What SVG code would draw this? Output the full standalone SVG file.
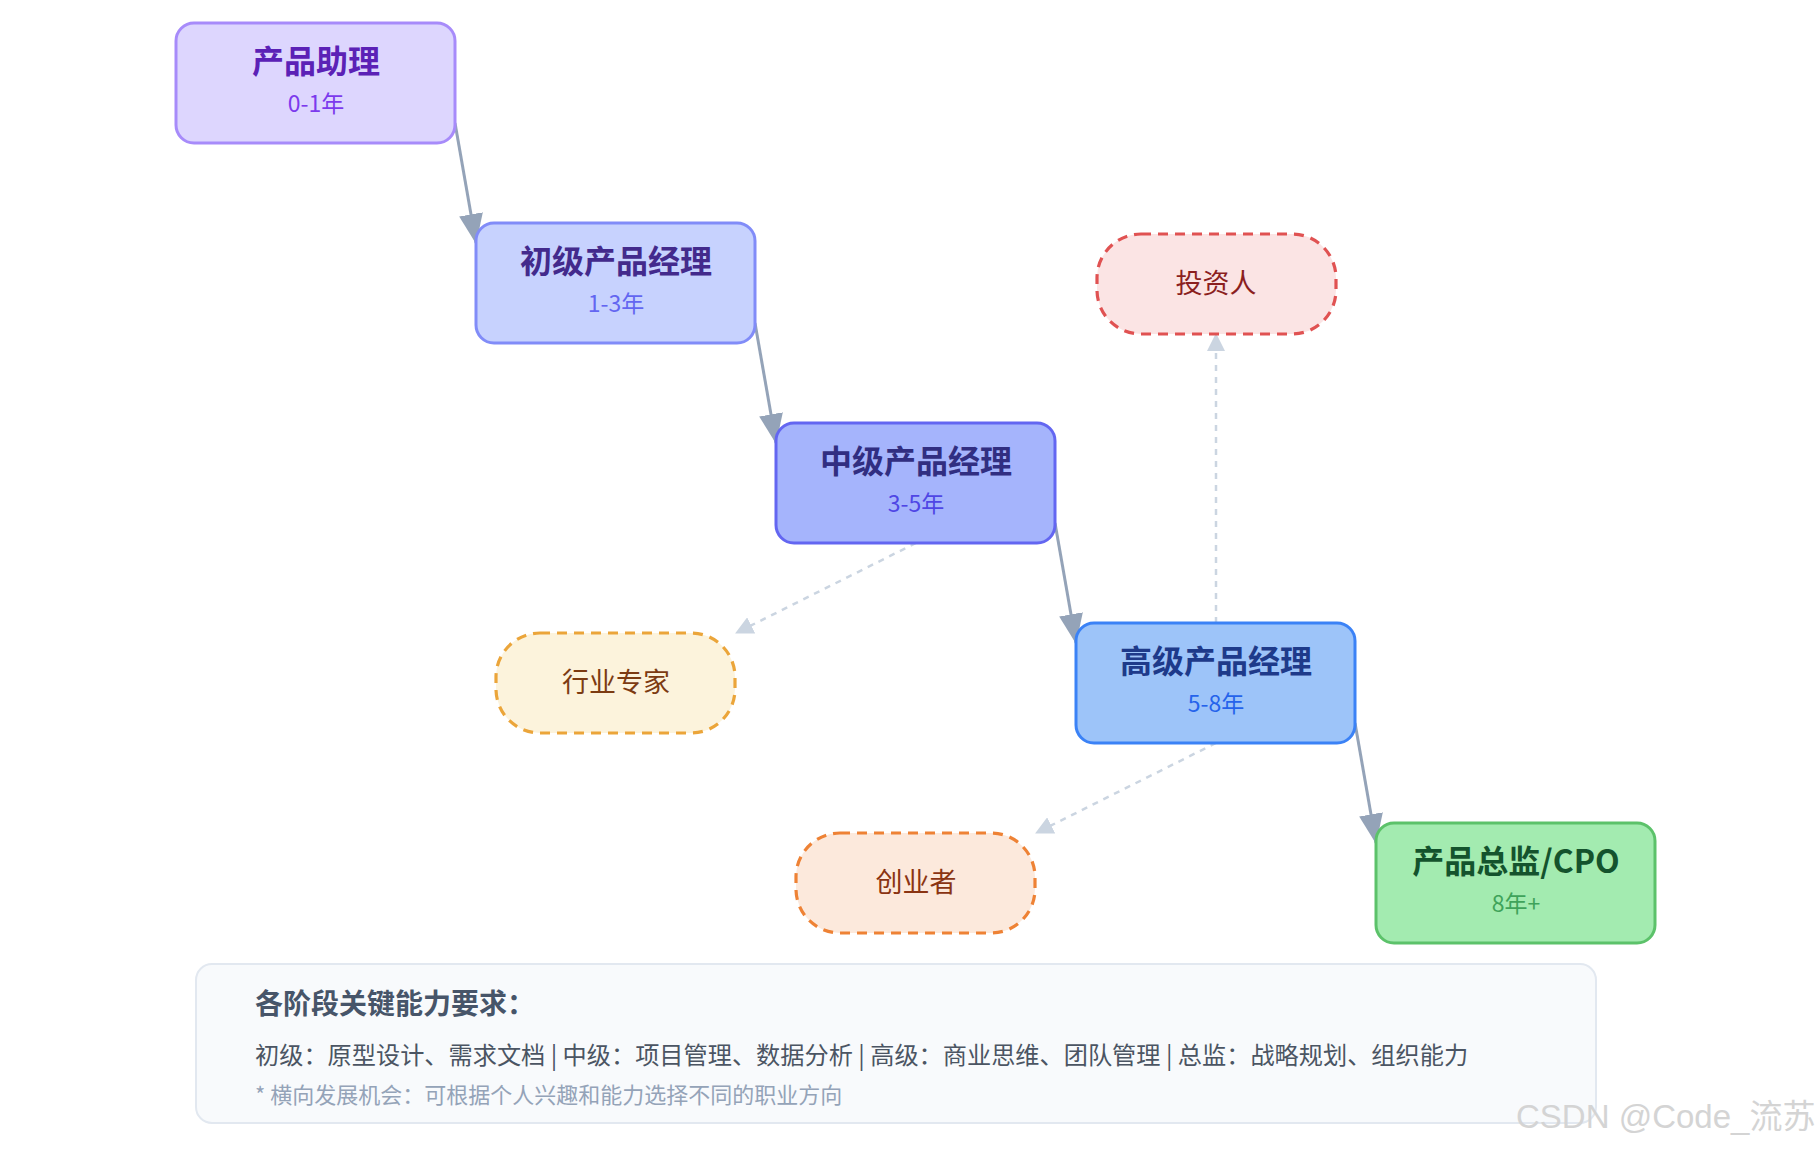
<svg xmlns="http://www.w3.org/2000/svg" width="1819" height="1149" viewBox="0 0 1819 1149">
  <defs>
    <marker id="arrowMain" markerUnits="userSpaceOnUse" viewBox="0 0 30 24" markerWidth="30" markerHeight="24" refX="29" refY="12" orient="auto">
      <path d="M0,0 L30,12 L0,24 z" fill="#94a3b8"/>
    </marker>
    <marker id="arrowDash" markerUnits="userSpaceOnUse" viewBox="0 0 18 18" markerWidth="18" markerHeight="18" refX="17" refY="9" orient="auto">
      <path d="M0,0 L18,9 L0,18 z" fill="#cbd5e1"/>
    </marker>
  </defs>
  <style>
    text { font-family: "Noto Sans CJK SC", "Noto Sans", "Liberation Sans", sans-serif; text-anchor: middle; }
    .node { stroke-width: 3; }
    .title { font-size: 32px; font-weight: 700; }
    .sub { font-size: 23px; }
    .alt { stroke-width: 3.2; stroke-dasharray: 10 7; }
    .altText { font-size: 27px; }
    .main { fill: none; stroke: #94a3b8; stroke-width: 3; marker-end: url(#arrowMain); }
    .dash { fill: none; stroke: #cbd5e1; stroke-width: 2.5; stroke-dasharray: 6 6; marker-end: url(#arrowDash); }
  </style>
  <rect width="1819" height="1149" fill="#ffffff"/>

  <g id="connectors">
    <path class="main" d="M455,123 L476,243"/>
    <path class="main" d="M755,323 L776,443"/>
    <path class="main" d="M1055,523 L1076,643"/>
    <path class="main" d="M1355,723 L1376,843"/>
    <path class="dash" d="M1216,623 L1216,334"/>
    <path class="dash" d="M916,543 L736,633"/>
    <path class="dash" d="M1216,743 L1036,833"/>
  </g>

  <g id="node-assistant">
    <rect class="node" x="176" y="23" width="279" height="120" rx="18" fill="#ddd6fe" stroke="#a78bfa"/>
    <text class="title" x="316" y="73" fill="#5b21b6">产品助理</text>
    <text class="sub" x="316" y="112" fill="#7c3aed">0-1年</text>
  </g>
  <g id="node-junior">
    <rect class="node" x="476" y="223" width="279" height="120" rx="18" fill="#c7d2fe" stroke="#818cf8"/>
    <text class="title" x="616" y="273" fill="#432a8c">初级产品经理</text>
    <text class="sub" x="616" y="312" fill="#6366f1">1-3年</text>
  </g>
  <g id="node-mid">
    <rect class="node" x="776" y="423" width="279" height="120" rx="18" fill="#a5b4fc" stroke="#6366f1"/>
    <text class="title" x="916" y="473" fill="#312e81">中级产品经理</text>
    <text class="sub" x="916" y="512" fill="#4f46e5">3-5年</text>
  </g>
  <g id="node-senior">
    <rect class="node" x="1076" y="623" width="279" height="120" rx="18" fill="#9dc4f9" stroke="#3b82f6"/>
    <text class="title" x="1216" y="673" fill="#1e3a8a">高级产品经理</text>
    <text class="sub" x="1216" y="712" fill="#2563eb">5-8年</text>
  </g>
  <g id="node-cpo">
    <rect class="node" x="1376" y="823" width="279" height="120" rx="18" fill="#a3ebb0" stroke="#5cc26a"/>
    <text class="title" x="1516" y="873" fill="#14532d">产品总监/CPO</text>
    <text class="sub" x="1516" y="912" fill="#3fa35a">8年+</text>
  </g>

  <g id="node-investor">
    <rect class="alt" x="1097" y="234" width="239" height="100" rx="44" fill="#fbe4e4" stroke="#e05252"/>
    <text class="altText" x="1216" y="293" fill="#8b1f1f">投资人</text>
  </g>
  <g id="node-expert">
    <rect class="alt" x="496" y="633" width="239" height="100" rx="44" fill="#fcf3dc" stroke="#eba53a"/>
    <text class="altText" x="616" y="692" fill="#7c3b12">行业专家</text>
  </g>
  <g id="node-founder">
    <rect class="alt" x="796" y="833" width="239" height="100" rx="44" fill="#fce9dc" stroke="#ee8235"/>
    <text class="altText" x="916" y="892" fill="#8a3412">创业者</text>
  </g>

  <g id="legend">
    <rect x="196" y="964" width="1400" height="159" rx="16" fill="#f8fafc" stroke="#e2e8f0" stroke-width="2"/>
    <text x="255" y="1014" style="text-anchor:start; font-size:28px; font-weight:700;" fill="#475569">各阶段关键能力要求：</text>
    <text x="255" y="1064" style="text-anchor:start; font-size:24.2px;" fill="#4b5563">初级：原型设计、需求文档 | 中级：项目管理、数据分析 | 高级：商业思维、团队管理 | 总监：战略规划、组织能力</text>
    <text x="255" y="1103" style="text-anchor:start; font-size:22px;" fill="#94a3b8">* 横向发展机会：可根据个人兴趣和能力选择不同的职业方向</text>
  </g>

  <text x="1516" y="1128" style="text-anchor:start; font-size:33px; font-family:'Liberation Sans','Noto Sans CJK SC',sans-serif;" fill="#d4d4d4">CSDN @Code_流苏</text>
</svg>
